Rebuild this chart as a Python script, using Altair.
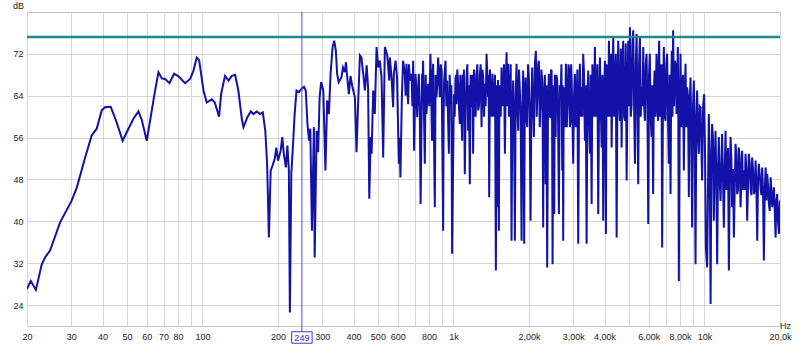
import altair as alt
import pandas as pd

# ---- data (Hz, dB) ----
freq_low = [20, 20.7, 21.7, 22.9, 23.6, 24.7, 27.1, 30.1, 31.6, 34.1, 36.2, 37.9, 39.7, 40.9, 43.1, 45.3,
            48.1, 50.7, 53.1, 55.6, 57.3, 60.0, 62.2, 64.4, 66.8, 68.9, 71.0, 73.9, 77.1, 80.3, 85.3, 89.3,
            92.1, 94.9, 97.0, 101, 104, 109, 112, 116.5, 118.7, 123, 127, 131, 135, 139, 143.5, 145.7,
            151, 155.8, 159.7, 164.6]
db_low = [27.1, 28.6, 26.9, 31.8, 33.1, 34.4, 39.8, 43.9, 46.5, 52.2, 56.4, 57.7, 61.2, 61.8, 61.9, 59.2,
          55.4, 57.7, 59.6, 61.0, 59.4, 55.4, 59.9, 64.3, 68.5, 67.3, 67.2, 66.4, 68.2, 67.7, 66.4, 67.2,
          68.8, 71.3, 70.8, 65.0, 62.7, 63.3, 62.7, 60.0, 64.3, 67.8, 66.9, 67.8, 68.0, 65.0, 59.6, 58.0,
          59.9, 61.0, 60.5, 61.0]

freq_mid = [169.7, 174, 178, 181, 184, 187, 190, 194, 197, 200, 205, 208, 211, 215, 218, 221, 223, 226,
            230, 233, 237, 242, 248, 254, 258, 262, 266, 269, 273, 278, 280, 285, 289, 293, 297, 303, 309,
            314, 319, 324, 330, 335, 340, 344, 349, 358, 363, 369, 373, 377, 383, 389, 396, 405, 411, 417,
            424, 430, 437, 444, 451, 457, 462, 468, 472, 479, 486, 494, 501, 509, 517, 525, 533, 545, 555]
db_mid = [60.5, 60.8, 57.3, 51.0, 36.9, 49.7, 50.6, 51.9, 54.1, 51.6, 53.5, 56.1, 52.9, 50.3, 54.5, 49.7,
          22.6, 49.1, 55.4, 60.5, 65.0, 64.7, 65.3, 65.7, 65.0, 58.6, 55.4, 57.7, 38.2, 58.0, 33.1, 57.3,
          53.2, 63.7, 66.6, 65.0, 49.7, 63.1, 60.5, 68.2, 73.3, 74.5, 72.6, 68.2, 66.6, 67.5, 69.4, 68.5,
          70.4, 67.8, 64.3, 67.8, 65.6, 63.7, 53.2, 62.4, 71.7, 71.3, 68.2, 65.0, 69.8, 65.6, 44.3, 56.1,
          52.9, 65.0, 60.5, 73.3, 69.4, 70.7, 67.5, 52.2, 73.3, 71.7, 66.9]

freq_hi1 = [558, 567, 575, 579, 588, 596, 606, 615, 623, 630, 640, 650, 660, 670, 681, 691, 697, 706, 717,
            728, 740, 750, 757, 769, 781, 793, 810, 822, 830, 843, 856, 869, 883, 897, 910, 918, 930, 944,
            959, 974, 988, 1004, 1019, 1029, 1044, 1060, 1070, 1083, 1093, 1110, 1128, 1144, 1162, 1181,
            1198, 1217, 1236, 1254, 1274, 1294, 1314, 1334, 1355, 1375, 1388, 1409, 1431, 1453, 1476, 1494,
            1517, 1531, 1555, 1578, 1603, 1628, 1652, 1678, 1704, 1730, 1757, 1784, 1811]
db_hi1 = [71.3, 67.5, 61.8, 68.2, 70.7, 67.5, 51.0, 48.4, 63.7, 70.7, 68.2, 70.1, 62.4, 66.9, 68.2, 70.7,
          53.5, 68.2, 59.9, 68.2, 43.3, 68.2, 70.7, 51.0, 60.5, 66.3, 72.0, 55.4, 70.1, 42.7, 63.7, 71.3,
          63.7, 68.8, 38.2, 66.9, 70.7, 66.9, 52.9, 62.4, 33.8, 64.3, 67.2, 62.4, 66.3, 58.6, 65.6, 55.4,
          63.7, 49.0, 67.5, 57.3, 47.1, 61.8, 52.9, 65.6, 68.2, 61.2, 68.2, 58.0, 67.5, 66.3, 72.0, 63.7,
          44.6, 64.3, 68.2, 63.7, 30.6, 42.7, 38.2, 63.7, 69.4, 63.7, 52.9, 72.3, 70.1, 63.7, 36.3, 66.9,
          36.3, 70.1, 57.3]

freq_hi2 = [1839, 1868, 1896, 1913, 1938, 1967, 1998, 2029, 2059, 2092, 2130, 2164, 2190, 2224, 2257, 2278,
            2299, 2329, 2363, 2400, 2438, 2460, 2483, 2520, 2553, 2591, 2631, 2673, 2713, 2737, 2762, 2806,
            2850, 2892, 2929, 2956, 3000, 3047, 3095, 3141, 3190, 3240, 3288, 3340, 3393, 3443, 3497, 3552,
            3605, 3661, 3719, 3774, 3834, 3894, 3951, 4013, 4050, 4099, 4164, 4229, 4268, 4331, 4400, 4469,
            4535, 4607, 4677, 4747, 4822, 4898, 4971, 5048, 5128, 5204, 5286, 5368, 5447, 5533, 5620, 5704,
            5794, 5880, 5972]
db_hi2 = [65.0, 36.3, 68.8, 35.7, 67.5, 58.0, 67.5, 40.1, 69.4, 56.1, 72.6, 65.6, 70.7, 62.4, 66.9, 38.8,
          65.0, 47.1, 31.2, 68.2, 59.9, 68.8, 31.8, 41.4, 56.1, 66.9, 41.4, 63.7, 49.7, 36.3, 65.6, 70.1,
          62.4, 68.8, 59.2, 67.5, 51.0, 68.2, 63.1, 35.7, 70.1, 65.6, 72.0, 55.4, 35.7, 68.8, 52.9, 43.3,
          66.3, 73.3, 63.7, 41.4, 71.3, 54.1, 40.1, 70.7, 37.6, 65.6, 74.5, 66.9, 54.1, 75.2, 65.6, 36.9,
          74.5, 59.2, 54.1, 74.5, 59.2, 47.8, 74.5, 77.1, 62.4, 76.5, 51.0, 75.8, 47.1, 75.2, 65.6, 73.3,
          59.2, 72.0, 39.5]

freq_hi3 = [6059, 6154, 6245, 6327, 6443, 6539, 6600, 6704, 6785, 6892, 6998, 7101, 7213, 7327, 7415, 7503,
            7620, 7741, 7834, 7907, 8030, 8148, 8278, 8408, 8532, 8666, 8802, 8933, 9074, 9216, 9352, 9500,
            9649, 9790, 9972, 10130, 10250, 10410, 10580, 10730, 10900, 11070, 11240, 11410, 11590, 11760,
            11950, 12140, 12320, 12510, 12710, 12890, 13100, 13300, 13500, 13710, 13930, 14130, 14360,
            14580, 14800, 15030, 15270, 15490, 15740, 15990, 16230, 16470, 16730, 16980, 17250, 17530,
            17780, 18060, 18350, 18620, 18910, 19210, 19490, 19800, 20000]
db_hi3 = [72.0, 56.1, 45.2, 68.8, 72.0, 59.2, 74.5, 65.6, 35.0, 73.3, 59.2, 72.0, 51.0, 45.2, 72.6, 76.5,
          70.7, 60.5, 73.3, 28.6, 72.0, 62.4, 49.7, 70.1, 65.6, 44.6, 67.5, 38.8, 66.9, 31.8, 65.0, 52.9,
          61.8, 47.8, 64.3, 35.0, 31.2, 60.5, 24.2, 58.6, 40.1, 57.3, 31.8, 56.1, 43.9, 56.7, 38.8, 57.3,
          48.4, 30.6, 56.1, 42.7, 36.9, 54.8, 45.2, 54.1, 42.7, 53.5, 49.7, 52.9, 40.1, 52.9, 46.5, 52.2,
          45.2, 51.6, 36.3, 51.0, 46.5, 50.3, 32.5, 50.3, 49.1, 43.3, 48.4, 42.7, 46.5, 36.9, 45.2, 37.6,
          44.0]

# extra ripple points inside the dense band
freq_fill = [610, 645, 665, 686, 711, 734, 753, 775, 801, 826, 849, 862, 890, 914, 937, 966, 981,
             1011, 1024, 1036, 1052, 1065, 1077, 1088, 1101, 1119, 1136, 1153, 1171, 1190, 1207, 1226,
             1245, 1264, 1284, 1304, 1324, 1344, 1365, 1381, 1398, 1420, 1442, 1464, 1485, 1505, 1524,
             1543, 1566, 1590, 1615, 1640, 1665, 1691, 1717, 1743, 1770, 1797, 1825,
             1853, 1882, 1904, 1925, 1952, 1982, 2013, 2044, 2075, 2111, 2147, 2177, 2207, 2240, 2267,
             2288, 2314, 2346, 2381, 2419, 2449, 2471, 2501, 2536, 2572, 2611, 2652, 2693, 2725, 2749,
             2784, 2828, 2871, 2910, 2942, 2978, 3023, 3071, 3118, 3165, 3215, 3264, 3314, 3366, 3418,
             3470, 3524, 3578, 3633, 3690, 3746, 3804, 3864, 3922, 3982, 4031, 4074, 4131, 4196, 4248,
             4299, 4365, 4434, 4502, 4571, 4642, 4712, 4784, 4860, 4934, 5009, 5088, 5166, 5245, 5327,
             5407, 5490, 5576, 5662, 5749, 5837, 5926, 6015,
             6106, 6199, 6286, 6385, 6491, 6569, 6652, 6744, 6838, 6945, 7049, 7157, 7270, 7371, 7459,
             7561, 7680, 7787, 7870, 7968, 8089, 8213, 8343, 8470, 8599, 8734, 8867, 9003, 9145, 9284,
             9426, 9574, 9719, 9881, 10050,
             10495, 10655, 10815, 10985, 11155, 11325, 11500, 11675, 11855, 12045, 12230, 12415, 12610,
             12800, 12995, 13200, 13400, 13605, 13820, 14030, 14245, 14470, 14690, 14915, 15150, 15380,
             15615, 15865, 16110, 16350, 16600, 16855, 17115, 17390, 17655, 17920, 18205, 18485, 18765,
             19060, 19350, 19645, 19900]
db_fill = [56, 64, 70, 62, 66, 62, 64, 68, 62, 68, 68, 66, 70, 60, 62, 68, 66,
           60, 68, 69, 62, 68, 60, 68, 69, 62, 70, 66, 68, 68, 69, 60,
           70, 62, 70, 69, 60, 62, 68, 68, 69, 60, 60, 68, 66, 67, 66,
           60, 62, 70, 66, 62, 60, 70, 62, 60, 64, 62, 69,
           60, 62, 60, 64, 60, 70, 60, 62, 62, 70, 60, 70, 58, 69, 60,
           62, 68, 66, 62, 60, 69, 60, 66, 68, 68, 60, 66, 70, 66, 62,
           58, 58, 70, 58, 70, 60, 64, 58, 69, 62, 60, 60, 68, 66, 64,
           60, 68, 70, 60, 60, 70, 62, 62, 68, 64, 62, 70, 60, 60, 72,
           68, 60, 72, 66, 62, 73, 70, 60, 74, 64, 62, 60, 74, 62, 70,
           62, 70, 60, 62, 62, 70, 62, 68,
           60, 66, 64, 60, 62, 70, 60, 70, 64, 60, 70, 60, 68, 66, 60,
           62, 70, 66, 60, 62, 58, 68, 64, 58, 64, 62, 56, 62, 56, 60,
           56, 62, 55, 62, 54,
           52, 50, 56, 50, 48, 50, 48, 50, 48, 50, 46, 54, 48,
           52, 50, 46, 53, 46, 52, 48, 46, 46, 50, 47, 51, 45,
           50, 46, 46, 48, 49, 45, 46, 46, 44, 47, 42, 46, 44,
           42, 44, 40, 42]

reference_db = [75.2]
cursor_hz = [249]

x_grid = [20, 30, 40, 50, 60, 70, 80, 90, 100, 200, 300, 400, 500, 600, 700, 800, 900,
          1000, 2000, 3000, 4000, 5000, 6000, 7000, 8000, 9000, 10000, 20000]
x_tick_labels = {20: "20", 30: "30", 40: "40", 50: "50", 60: "60", 70: "70", 80: "80", 100: "100",
                 200: "200", 300: "300", 400: "400", 500: "500", 600: "600", 800: "800", 1000: "1k",
                 2000: "2,00k", 3000: "3,00k", 4000: "4,00k", 6000: "6,00k", 8000: "8,00k",
                 10000: "10k", 20000: "20,0k"}
y_ticks = [24, 32, 40, 48, 56, 64, 72]

# ---- build ----
freq_hz = freq_low + freq_mid + freq_hi1 + freq_hi2 + freq_hi3 + freq_fill
level_db = db_low + db_mid + db_hi1 + db_hi2 + db_hi3 + db_fill
df = pd.DataFrame({"freq": freq_hz, "db": level_db}).sort_values("freq").reset_index(drop=True)

FONT = "Liberation Sans"
label_expr = " : ".join(f"datum.value == {k} ? '{v}'" for k, v in x_tick_labels.items()) + " : ''"

xscale = alt.Scale(type="log", domain=[20, 20000], nice=False)
yscale = alt.Scale(domain=[20, 80], nice=False, zero=False)
x_axis = alt.Axis(values=x_grid, labelExpr=label_expr, title=None, grid=True,
                  gridColor="#d4d4d4", gridWidth=1, tickSize=0, domain=False,
                  labelFont=FONT, labelFontSize=9, labelColor="#222222",
                  labelPadding=6, labelFlush=False, labelOverlap=False, labelBound=False)
y_axis = alt.Axis(values=y_ticks, title=None, grid=True, gridColor="#d4d4d4", gridWidth=1,
                  tickSize=0, domain=False, labelFont=FONT, labelFontSize=9,
                  labelColor="#222222", labelPadding=4)

X = alt.X("freq:Q", scale=xscale, axis=x_axis)
Y = alt.Y("db:Q", scale=yscale, axis=y_axis)

curve = alt.Chart(df).mark_line(color="#1212a8", strokeWidth=2, clip=True).encode(x=X, y=Y)

ref_line = alt.Chart(pd.DataFrame({"db": reference_db})).mark_rule(
    color="#1f8a8e", strokeWidth=2.5).encode(y=Y)

cdf = pd.DataFrame({"freq": cursor_hz, "lab": [str(v) for v in cursor_hz]})
cursor = alt.Chart(cdf).mark_rule(color="#4a4ae0", strokeWidth=1).encode(
    x=X, y=alt.value(0), y2=alt.value(320))
cursor_box = alt.Chart(cdf).mark_point(
    shape="M-1,-0.56L1,-0.56L1,0.56L-1,0.56Z", size=420, filled=True, fill="white",
    stroke="#3a3ad0", strokeWidth=1, opacity=1).encode(x=X, y=alt.value(325.5))
cursor_text = alt.Chart(cdf).mark_text(
    font=FONT, fontSize=9, color="#3030c8", baseline="middle", align="center").encode(
    x=X, y=alt.value(326), text="lab:N")

hz_text = alt.Chart(pd.DataFrame({"t": ["Hz"]})).mark_text(
    font=FONT, fontSize=9, color="#222222", align="left", baseline="middle").encode(
    x=alt.value(753), y=alt.value(314), text="t:N")
db_text = alt.Chart(pd.DataFrame({"t": ["dB"]})).mark_text(
    font=FONT, fontSize=9, color="#222222", align="right", baseline="middle").encode(
    x=alt.value(-3), y=alt.value(-6), text="t:N")

chart = alt.layer(curve, ref_line, cursor, cursor_box, cursor_text, hz_text, db_text).properties(
    width=753, height=314,
    padding={"left": 27, "top": 12, "right": 20, "bottom": 19},
    autosize=alt.AutoSizeParams(type="none"),
    background="white",
).configure_view(stroke="#c4c4c4", strokeWidth=1)

chart.save("out.html", embed_options={"renderer": "svg", "actions": False})
